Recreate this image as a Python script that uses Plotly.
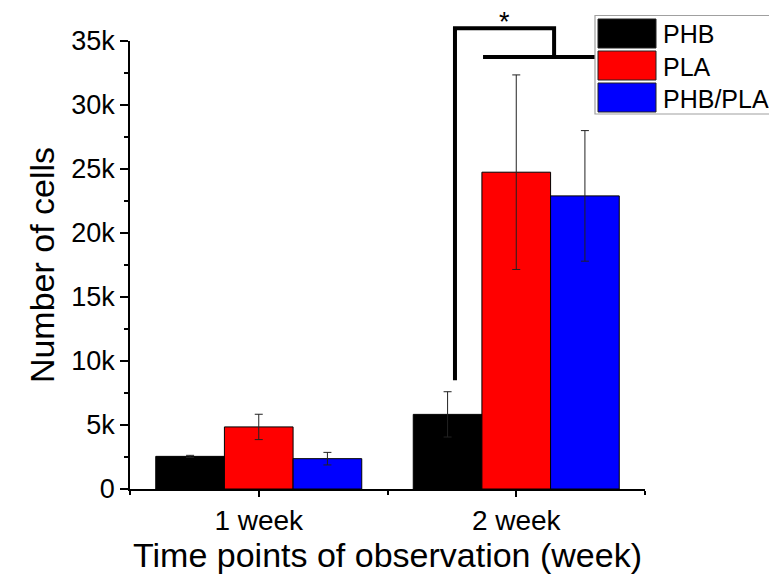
import plotly.graph_objects as go

# ---- data ----
categories = ["1 week", "2 week"]
series_names = ["PHB", "PLA", "PHB/PLA"]
series_colors = ["#000000", "#ff0000", "#0000ff"]
phb_mean = [2550, 5830]
phb_err = [80, 1770]
pla_mean = [4850, 24750]
pla_err = [990, 7600]
blend_mean = [2370, 22900]
blend_err = [490, 5100]
y_tick_vals = [0, 5000, 10000, 15000, 20000, 25000, 30000, 35000]
y_tick_labels = ["0", "5k", "10k", "15k", "20k", "25k", "30k", "35k"]

# significance bracket (x in category units, y in cell counts)
sig_left_x = 0.762
sig_right_x = 1.147
sig_low_x0 = 0.871
sig_low_x1 = 1.40
sig_bottom_y = 8500
sig_top_y = 36000
sig_mid_y = 33750
sig_label = "*"

# ---- layout constants ----
W, H = 769, 574
ML, MR, MT, MB = 130, 124, 41, 85
PW, PH = W - ML - MR, H - MT - MB
YMAX = 35000
FONT = "Liberation Sans, Arial, sans-serif"


def px_x(px):
    return (px - ML) / PW


def px_y(py):
    return (H - MB - py) / PH


def val_y(v):
    return v / YMAX


x_pos = list(range(len(categories)))
means = [phb_mean, pla_mean, blend_mean]
errs = [phb_err, pla_err, blend_err]

fig = go.Figure()
for name, color, m, e in zip(series_names, series_colors, means, errs):
    fig.add_trace(go.Bar(
        x=x_pos, y=m, name=name,
        marker=dict(color=color, line=dict(color="black", width=1)),
        error_y=dict(type="data", array=e, visible=True, color="#222222",
                     thickness=1, width=4),
        showlegend=False,
    ))

shapes = []
# bracket
shapes.append(dict(
    type="path", xref="x", yref="paper",
    path=(f"M {sig_left_x},{val_y(sig_bottom_y)} L {sig_left_x},{val_y(sig_top_y)} "
          f"L {sig_right_x},{val_y(sig_top_y)} L {sig_right_x},{val_y(sig_mid_y)}"),
    line=dict(color="black", width=4),
))
shapes.append(dict(
    type="line", xref="x", yref="paper",
    x0=sig_low_x0, x1=sig_low_x1, y0=val_y(sig_mid_y), y1=val_y(sig_mid_y),
    line=dict(color="black", width=4),
))

# custom legend
leg_left, leg_top, leg_bottom = 595, 15.5, 114
shapes.append(dict(
    type="rect", xref="paper", yref="paper",
    x0=px_x(leg_left), x1=px_x(820), y0=px_y(leg_bottom), y1=px_y(leg_top),
    fillcolor="white", line=dict(color="#a0a0a0", width=1.2),
))
annotations = []
row_tops = [19, 51, 83]
row_h = 29
for name, color, rt in zip(series_names, series_colors, row_tops):
    shapes.append(dict(
        type="rect", xref="paper", yref="paper",
        x0=px_x(598), x1=px_x(656), y0=px_y(rt + row_h), y1=px_y(rt),
        fillcolor=color, line=dict(color="#222222", width=1),
    ))
    annotations.append(dict(
        text=name, xref="paper", yref="paper", x=px_x(661), y=px_y(rt + row_h / 2 + 1),
        xanchor="left", yanchor="middle", showarrow=False,
        font=dict(family=FONT, size=25, color="black"),
    ))

annotations.append(dict(
    text=sig_label, xref="x", yref="paper",
    x=(sig_left_x + sig_right_x) / 2, y=px_y(22),
    xanchor="center", yanchor="middle", showarrow=False,
    font=dict(family=FONT, size=27, color="black"),
))

fig.update_layout(
    width=W, height=H,
    margin=dict(l=ML, r=MR, t=MT, b=MB, autoexpand=False),
    paper_bgcolor="white", plot_bgcolor="white",
    barmode="group", bargap=0.2, bargroupgap=0,
    font=dict(family=FONT, color="black"),
    shapes=shapes, annotations=annotations,
    showlegend=False,
)
fig.update_xaxes(
    range=[-0.5, 1.5], tickvals=x_pos, ticktext=categories,
    showline=True, linecolor="black", linewidth=1.5,
    ticks="outside", ticklen=6, tickwidth=1.5, tickcolor="black",
    minor=dict(tickvals=[-0.5, 0.5, 1.5], ticks="outside", ticklen=4,
               tickwidth=1.5, tickcolor="black"),
    showgrid=False, zeroline=False,
    tickfont=dict(family=FONT, size=28),
    title=dict(text="Time points of observation (week)",
               font=dict(family=FONT, size=34), standoff=2),
)
fig.update_yaxes(
    range=[0, YMAX], tickvals=y_tick_vals, ticktext=y_tick_labels,
    showline=True, linecolor="black", linewidth=1.5,
    ticks="outside", ticklen=8, tickwidth=1.5, tickcolor="black",
    minor=dict(dtick=2500, tick0=0, ticks="outside", ticklen=4,
               tickwidth=1.5, tickcolor="black"),
    showgrid=False, zeroline=False,
    tickfont=dict(family=FONT, size=27),
    title=dict(text="Number of cells", font=dict(family=FONT, size=34), standoff=6),
)

fig.write_html("out.html")
